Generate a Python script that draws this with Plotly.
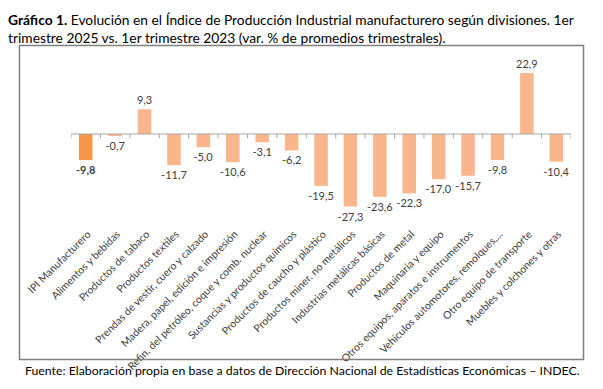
import plotly.graph_objects as go

categories = [
    "IPI Manufacturero", "Alimentos y bebidas", "Productos de tabaco", "Productos textiles",
    "Prendas de vestir, cuero y calzado", "Madera, papel, edición e impresión",
    "Refin. del petróleo, coque y comb. nuclear", "Sustancias y productos químicos",
    "Productos de caucho y plástico", "Productos miner. no metálicos",
    "Industrias metálicas básicas", "Productos de metal", "Maquinaria y equipo",
    "Otros equipos, aparatos e instrumentos", "Vehículos automotores, remolques,...",
    "Otro equipo de transporte", "Muebles y colchones y otras",
]
values = [-9.8, -0.7, 9.3, -11.7, -5.0, -10.6, -3.1, -6.2, -19.5, -27.3,
          -23.6, -22.3, -17.0, -15.7, -9.8, 22.9, -10.4]

W, H = 603, 389
L, R, T, B = 71, 571, 50, 218
ZERO_PX, SCALE = 134, 2.66

colors = ["#F79646"] + ["#F9B58C"] * (len(values) - 1)
labels = [f"{v:.1f}".replace(".", ",") for v in values]
labels[0] = "<b>" + labels[0] + "</b>"
xs = list(range(len(values)))

fig = go.Figure()
fig.add_trace(go.Bar(
    x=xs, y=values, marker=dict(color=colors, line=dict(width=0)),
    width=0.46, text=labels, textposition="outside", cliponaxis=False,
    constraintext="none",
    textfont=dict(family="Lato", size=11, color="#404040"),
    hoverinfo="skip",
))

shapes = []
shapes.append(dict(type="line", xref="x", yref="y", x0=-0.5, x1=len(values) - 0.5, y0=0, y1=0,
                   line=dict(color="#A6A6A6", width=1)))
for i in range(len(values) + 1):
    shapes.append(dict(type="line", xref="x", yref="y", x0=i - 0.5, x1=i - 0.5, y0=0, y1=-1.6,
                       line=dict(color="#A6A6A6", width=1)))

pw, ph = R - L, B - T
def px(x): return (x - L) / pw
def py(y): return (B - y) / ph

# outer frame of the chart area
shapes.append(dict(type="rect", xref="paper", yref="paper",
                   x0=px(19.5), x1=px(583.5), y0=py(359.5), y1=py(45.5),
                   line=dict(color="#808080", width=1.5), fillcolor="rgba(0,0,0,0)",
                   layer="above"))

annotations = [
    dict(xref="paper", yref="paper", x=px(6), y=py(9), xanchor="left", yanchor="top", align="left",
         showarrow=False,
         text="<b>Gráfico 1.</b> Evolución en el Índice de Producción Industrial manufacturero según divisiones. 1er<br>trimestre 2025 vs. 1er trimestre 2023 (var. % de promedios trimestrales).",
         font=dict(family="Lato", size=13.8, color="#000000")),
    dict(xref="paper", yref="paper", x=px(23), y=py(370), xanchor="left", yanchor="middle",
         showarrow=False,
         text="Fuente: Elaboración propia en base a datos de Dirección Nacional de Estadísticas Económicas – INDEC.",
         font=dict(family="Lato", size=12.3, color="#000000")),
]

ymax = (ZERO_PX - T) / SCALE
ymin = -(B - ZERO_PX) / SCALE

fig.update_layout(
    width=W, height=H, margin=dict(l=L, r=W - R, t=T, b=H - B, autoexpand=False),
    paper_bgcolor="white", plot_bgcolor="rgba(0,0,0,0)", showlegend=False,
    shapes=shapes, annotations=annotations,
    xaxis=dict(tickmode="array", tickvals=xs, ticktext=categories, tickangle=-45,
               range=[-0.5, len(values) - 0.5], showgrid=False, zeroline=False, showline=False,
               ticks="", ticklabelshift=2, ticklabelstandoff=7, automargin=False,
               tickfont=dict(family="Lato", size=10.5, color="#404040")),
    yaxis=dict(range=[ymin, ymax], showgrid=False, zeroline=False, showline=False,
               showticklabels=False, ticks="", automargin=False),
    font=dict(family="Lato"),
)

fig.write_html("out.html", config={"displayModeBar": False},
               post_script="document.body.style.margin='0';document.body.style.overflow='hidden';")
